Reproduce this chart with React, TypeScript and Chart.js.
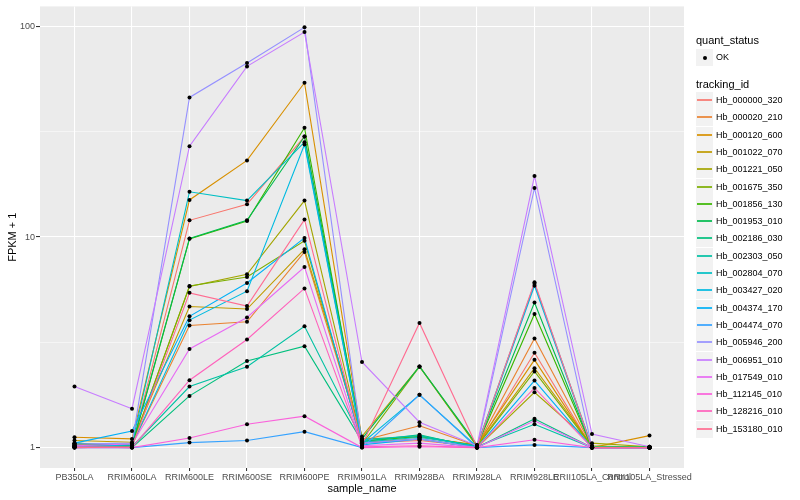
import React, { useEffect, useRef } from "react";
import { Chart, registerables } from "chart.js";

Chart.register(...registerables);

const categories = [
  "PB350LA",
  "RRIM600LA",
  "RRIM600LE",
  "RRIM600SE",
  "RRIM600PE",
  "RRIM901LA",
  "RRIM928BA",
  "RRIM928LA",
  "RRIM928LE",
  "RRII105LA_Control",
  "RRII105LA_Stressed",
];

const trackingIds = [
  "Hb_000000_320",
  "Hb_000020_210",
  "Hb_000120_600",
  "Hb_001022_070",
  "Hb_001221_050",
  "Hb_001675_350",
  "Hb_001856_130",
  "Hb_001953_010",
  "Hb_002186_030",
  "Hb_002303_050",
  "Hb_002804_070",
  "Hb_003427_020",
  "Hb_004374_170",
  "Hb_004474_070",
  "Hb_005946_200",
  "Hb_006951_010",
  "Hb_017549_010",
  "Hb_112145_010",
  "Hb_128216_010",
  "Hb_153180_010",
];

const seriesColors = [
  "#F8766D", "#EA8331", "#D89000", "#C09B00", "#A3A500",
  "#7CAE00", "#39B600", "#00BB4E", "#00BF7D", "#00C1A3",
  "#00BFC4", "#00BAE0", "#00B0F6", "#35A2FF", "#9590FF",
  "#C77CFF", "#E76BF3", "#FA62DB", "#FF62BC", "#FF6C91",
];

const hb_000000_320 = [1.03, 1.02, 12.0, 14.3, 30, 1.05, 1.08, 1.01, 2.82, 1.0, 1.0];
const hb_000020_210 = [1.04, 1.03, 3.8, 3.96, 8.5, 1.08, 1.27, 1.02, 3.3, 1.01, 1.0];
const hb_000120_600 = [1.12, 1.1, 15.0, 23.1, 54, 1.1, 1.12, 1.03, 2.61, 1.0, 1.14];
const hb_001022_070 = [1.08, 1.06, 4.68, 4.55, 8.74, 1.13, 2.43, 1.02, 2.38, 1.02, 1.0];
const hb_001221_050 = [1.02, 1.03, 5.82, 6.65, 14.9, 1.06, 1.1, 1.0, 1.83, 1.05, 1.01];
const hb_001675_350 = [1.01, 1.02, 5.85, 6.46, 9.6, 1.04, 2.42, 1.01, 2.3, 1.01, 1.0];
const hb_001856_130 = [1.03, 1.01, 9.8, 11.9, 33, 1.07, 1.13, 1.02, 4.31, 1.0, 1.0];
const hb_001953_010 = [1.05, 1.02, 9.85, 12.0, 30, 1.1, 2.43, 1.03, 4.89, 1.0, 1.01];
const hb_002186_030 = [1.01, 1.0, 1.76, 2.58, 3.03, 1.07, 1.15, 1.0, 1.37, 1.0, 1.0];
const hb_002303_050 = [1.0, 1.01, 1.95, 2.42, 3.77, 1.09, 1.14, 1.01, 1.29, 1.0, 1.0];
const hb_002804_070 = [1.02, 1.04, 16.4, 14.9, 28.2, 1.06, 1.12, 1.02, 6.0, 1.01, 1.0];
const hb_003427_020 = [1.01, 1.03, 4.03, 5.53, 27.5, 1.05, 1.78, 1.01, 5.87, 1.0, 1.0];
const hb_004374_170 = [1.05, 1.2, 4.2, 6.05, 9.9, 1.03, 1.1, 1.0, 2.08, 1.0, 1.0];
const hb_004474_070 = [1.0, 1.0, 1.056, 1.08, 1.19, 1.0, 1.78, 1.0, 1.03, 1.0, 1.0];
const hb_005946_200 = [1.04, 1.05, 46, 67, 99, 1.05, 1.1, 1.0, 17.1, 1.0, 1.0];
const hb_006951_010 = [1.95, 1.53, 27, 64.6, 94, 2.55, 1.32, 1.02, 19.5, 1.16, 1.01];
const hb_017549_010 = [1.02, 1.04, 2.94, 4.15, 7.2, 1.02, 1.05, 1.0, 1.34, 1.0, 1.0];
const hb_112145_010 = [1.0, 1.0, 1.11, 1.29, 1.41, 1.0, 1.01, 1.0, 1.09, 1.0, 1.0];
const hb_128216_010 = [1.01, 1.0, 2.09, 3.26, 5.7, 1.01, 1.02, 1.0, 1.92, 1.0, 1.0];
const hb_153180_010 = [1.0, 1.01, 5.43, 4.7, 12.1, 1.03, 3.91, 1.01, 6.1, 1.0, 1.0];

const seriesValues = [
  hb_000000_320, hb_000020_210, hb_000120_600, hb_001022_070, hb_001221_050,
  hb_001675_350, hb_001856_130, hb_001953_010, hb_002186_030, hb_002303_050,
  hb_002804_070, hb_003427_020, hb_004374_170, hb_004474_070, hb_005946_200,
  hb_006951_010, hb_017549_010, hb_112145_010, hb_128216_010, hb_153180_010,
];

const yMajorTicks = [1, 10, 100];
const yMinorTicks = [3.1623, 31.623];
const quantStatus = ["OK"];

const FONT = "'Liberation Sans', Arial, Helvetica, sans-serif";

export default function App() {
  const canvasRef = useRef<HTMLCanvasElement>(null);

  useEffect(() => {
    document.body.style.margin = "0";
    const canvas = canvasRef.current;
    if (!canvas) return;
    Chart.defaults.font.family = FONT;

    const lineSets: any[] = seriesValues.map((vals, i) => ({
      type: "line",
      label: trackingIds[i],
      data: vals.map((v, j) => ({ x: j, y: v })),
      borderColor: seriesColors[i],
      backgroundColor: seriesColors[i],
      borderWidth: 1.1,
      pointRadius: 0,
      fill: false,
      tension: 0,
      order: 100 - i,
    }));

    const pointSet: any = {
      type: "scatter",
      label: "points",
      data: seriesValues.flatMap((vals) => vals.map((v, j) => ({ x: j, y: v }))),
      backgroundColor: "#000000",
      borderColor: "#000000",
      borderWidth: 0,
      pointRadius: 2,
      showLine: false,
      order: 0,
    };

    const panelBg = {
      id: "panelBg",
      beforeDraw(chart: any) {
        const { ctx, chartArea: a } = chart;
        ctx.save();
        ctx.fillStyle = "#EBEBEB";
        ctx.fillRect(a.left, a.top, a.right - a.left, a.bottom - a.top);
        ctx.restore();
      },
    };

    const isMajor = (v: number) => yMajorTicks.includes(v);

    const chart = new Chart(canvas, {
      type: "line",
      data: { datasets: [...lineSets, pointSet] },
      options: {
        animation: false,
        responsive: false,
        layout: { padding: { left: 0, top: 5, right: 116, bottom: 0 } },
        plugins: { legend: { display: false }, tooltip: { enabled: false } },
        scales: {
          x: {
            type: "linear",
            bounds: "data",
            min: -0.6,
            max: 10.6,
            afterBuildTicks: (s: any) => {
              s.ticks = categories.map((_, i) => ({ value: i }));
            },
            afterFit: (s: any) => {
              s.height = 32;
            },
            ticks: {
              autoSkip: false,
              maxRotation: 0,
              minRotation: 0,
              color: "#4D4D4D",
              font: { size: 9 },
              padding: 1,
              callback: (v: any) => categories[v as number] ?? "",
            },
            grid: { color: "#FFFFFF", lineWidth: 1.07, tickColor: "#333333", tickLength: 3 },
            border: { display: false },
            title: {
              display: true,
              text: "sample_name",
              color: "#000000",
              font: { size: 11 },
              padding: { top: 0, bottom: 4 },
            },
          },
          y: {
            type: "logarithmic",
            bounds: "data",
            min: 0.8,
            max: 124.5,
            afterBuildTicks: (s: any) => {
              s.ticks = [...yMajorTicks, ...yMinorTicks].sort((a, b) => a - b).map((v) => ({ value: v }));
            },
            afterFit: (s: any) => {
              s.width = 40;
            },
            ticks: {
              color: "#4D4D4D",
              font: { size: 9 },
              padding: 1,
              autoSkip: false,
              callback: (v: any) => (isMajor(v as number) ? String(v) : ""),
            },
            grid: {
              color: "#FFFFFF",
              lineWidth: (c: any) => (c.tick && isMajor(c.tick.value) ? 1.07 : 0.53),
              tickColor: (c: any) => (c.tick && isMajor(c.tick.value) ? "#333333" : "rgba(0,0,0,0)"),
              tickLength: 4,
            },
            border: { display: false },
            title: {
              display: true,
              text: "FPKM + 1",
              color: "#000000",
              font: { size: 11 },
              padding: { top: 6, bottom: 0 },
            },
          },
        },
      },
      plugins: [panelBg],
    } as any);

    return () => chart.destroy();
  }, []);

  const keyBox: React.CSSProperties = {
    position: "absolute",
    left: 0,
    top: 0,
    width: 17,
    height: 17,
    background: "#F2F2F2",
  };

  const LEG_X = 696;
  const ITEM0_TOP = 92;
  const ITEM_STEP = 17.3;

  return (
    <div style={{ position: "relative", width: 800, height: 500, background: "#FFFFFF", fontFamily: FONT }}>
      <canvas ref={canvasRef} width={800} height={500} style={{ display: "block", width: 800, height: 500 }} />
      <div style={{ position: "absolute", left: LEG_X, top: 33, fontSize: 11, lineHeight: "14px", color: "#000" }}>
        quant_status
      </div>
      {quantStatus.map((q) => (
        <div key={q} style={{ position: "absolute", left: LEG_X, top: 49, width: 100, height: 17 }}>
          <div style={keyBox}>
            <div
              style={{
                position: "absolute",
                left: 7,
                top: 7,
                width: 4,
                height: 4,
                borderRadius: 2,
                background: "#000",
              }}
            />
          </div>
          <div style={{ position: "absolute", left: 20, top: 0, fontSize: 9, lineHeight: "17px", color: "#000" }}>{q}</div>
        </div>
      ))}
      <div style={{ position: "absolute", left: LEG_X, top: 77, fontSize: 11, lineHeight: "14px", color: "#000" }}>
        tracking_id
      </div>
      {trackingIds.map((id, i) => (
        <div
          key={id}
          style={{ position: "absolute", left: LEG_X, top: Math.round(ITEM0_TOP + i * ITEM_STEP), width: 100, height: 17 }}
        >
          <div style={keyBox}>
            <div
              style={{
                position: "absolute",
                left: 1,
                width: 15,
                top: 7,
                height: 2,
                background: seriesColors[i],
                opacity: 0.85,
              }}
            />
          </div>
          <div
            style={{
              position: "absolute",
              left: 20,
              top: 0,
              fontSize: 9,
              lineHeight: "17px",
              whiteSpace: "nowrap",
              color: "#000",
            }}
          >
            {id}
          </div>
        </div>
      ))}
    </div>
  );
}
